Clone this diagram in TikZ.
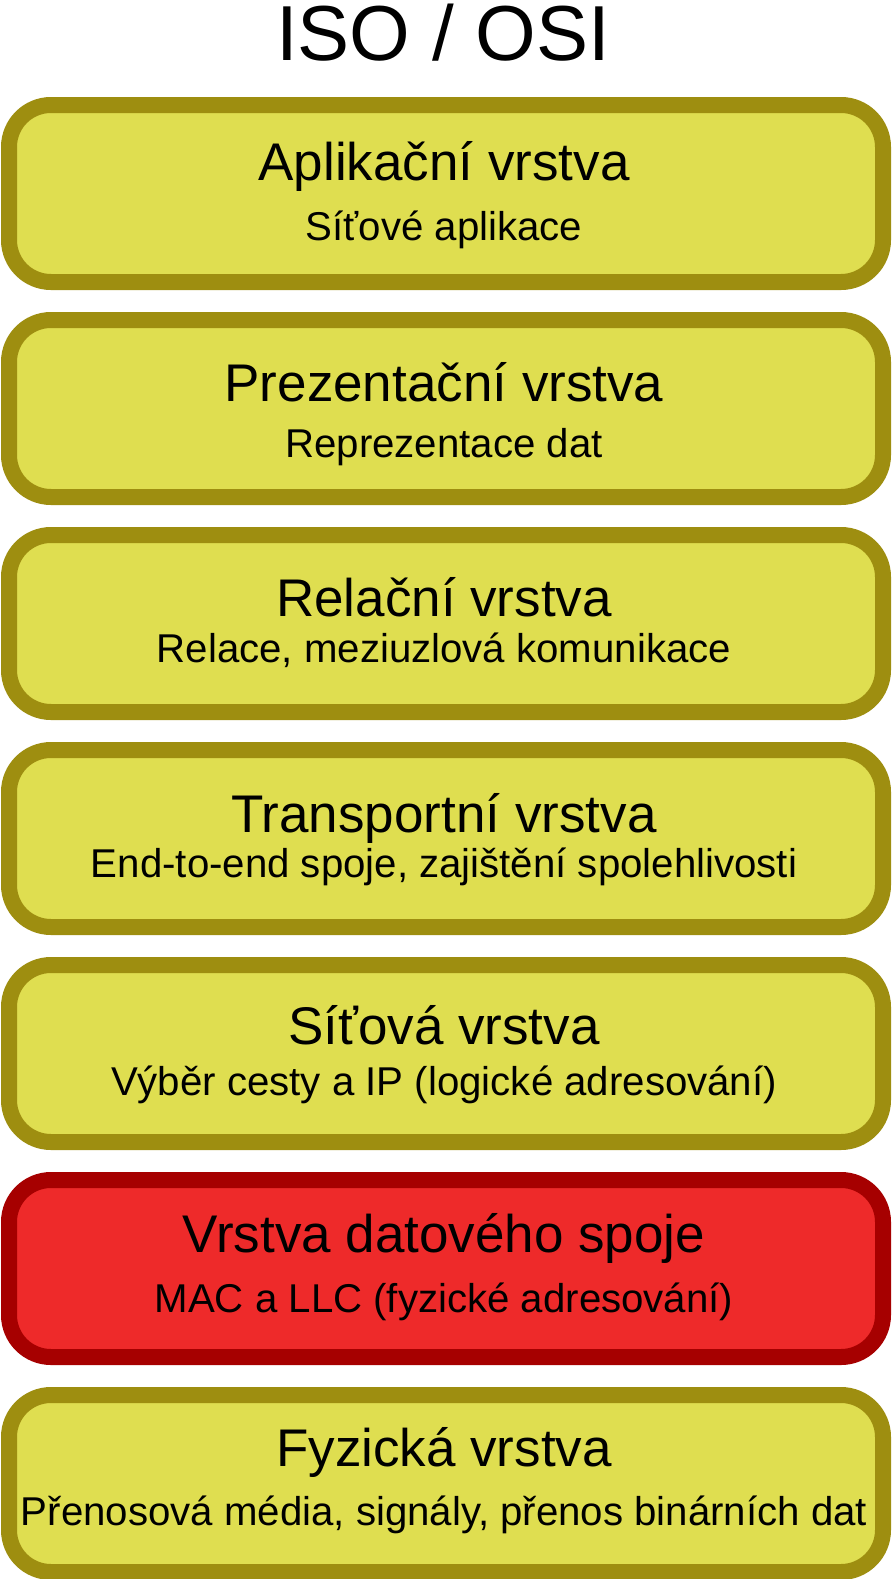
\documentclass[tikz,border=0pt]{standalone}
\usepackage{fontspec}
\setmainfont{Liberation Sans}
\definecolor{layerfill}{HTML}{DFDE50}
\definecolor{layerdraw}{HTML}{9E8E10}
\definecolor{hotfill}{HTML}{EE2A2A}
\definecolor{hotdraw}{HTML}{A60000}
\tikzset{
  layerbox/.style={draw=layerdraw, fill=layerfill, line width=16pt, rounded corners=42pt,
    minimum width=874pt, minimum height=177pt, inner sep=0pt, outer sep=0pt},
  hotbox/.style={layerbox, draw=hotdraw, fill=hotfill},
  headtxt/.style={anchor=base, inner sep=0pt, font=\fontsize{53}{60}\selectfont},
  subtxt/.style={anchor=base, inner sep=0pt, font=\fontsize{40.2}{46}\selectfont},
  titletxt/.style={anchor=base, inner sep=0pt, font=\fontsize{78}{88}\selectfont}
}
\begin{document}
\begin{tikzpicture}[x=1pt, y=-1pt]
\useasboundingbox (0,0) rectangle (893,1579);
\node[titletxt] (title) at (443,60) {ISO / OSI};
% boxes: outer top = 97 + 215*i, stroke-centre top = top+8, centre = top+96.5
\node[layerbox] (b1) at (446,193.5) {};
\node[layerbox] (b2) at (446,408.5) {};
\node[layerbox] (b3) at (446,623.5) {};
\node[layerbox] (b4) at (446,838.5) {};
\node[layerbox] (b5) at (446,1053.5) {};
\node[hotbox]   (b6) at (446,1268.5) {};
\node[layerbox] (b7) at (446,1483.5) {};
% texts
\node[headtxt] (h1) at (444,180) {Aplikační vrstva};
\node[subtxt]  (s1) at (444,240) {Síťové aplikace};
\node[headtxt] (h2) at (444,401) {Prezentační vrstva};
\node[subtxt]  (s2) at (444,457) {Reprezentace dat};
\node[headtxt] (h3) at (444,616) {Relační vrstva};
\node[subtxt]  (s3) at (444,662) {Relace, meziuzlová komunikace};
\node[headtxt] (h4) at (444,832) {Transportní vrstva};
\node[subtxt]  (s4) at (444,877) {End-to-end spoje, zajištění spolehlivosti};
\node[headtxt] (h5) at (444,1044) {Síťová vrstva};
\node[subtxt]  (s5) at (444,1095) {Výběr cesty a IP (logické adresování)};
\node[headtxt] (h6) at (444,1252) {Vrstva datového spoje};
\node[subtxt]  (s6) at (444,1312) {MAC a LLC (fyzické adresování)};
\node[headtxt] (h7) at (444,1466) {Fyzická vrstva};
\node[subtxt]  (s7) at (444,1525) {Přenosová média, signály, přenos binárních dat};
\end{tikzpicture}
\end{document}
